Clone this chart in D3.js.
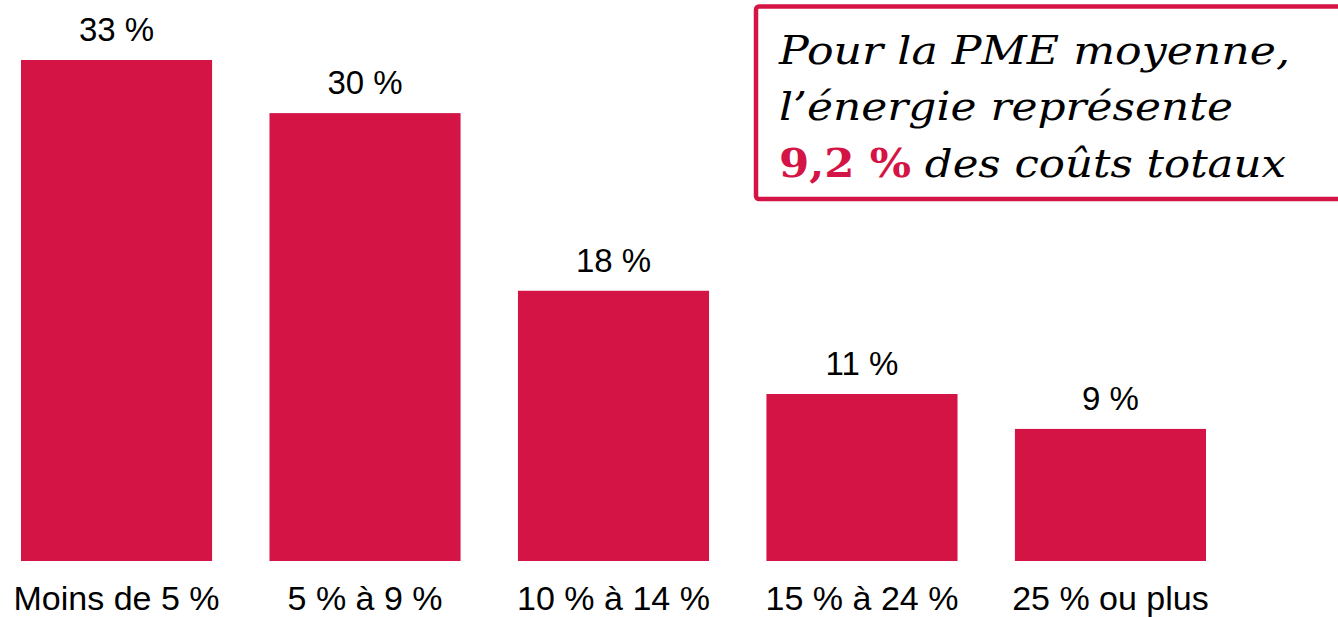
<!DOCTYPE html>
<html>
<head>
<meta charset="utf-8">
<script src="https://cdn.jsdelivr.net/npm/d3@7"></script>
<style>
  body { margin: 0; background: #fff; }
  svg { display: block; }
</style>
</head>
<body>
<div id="chart"></div>
<script>
// data
const categories = ["Moins de 5 %", "5 % à 9 %", "10 % à 14 %", "15 % à 24 %", "25 % ou plus"];
const values = [33, 29.5, 17.8, 11, 8.7];
const valueLabels = ["33 %", "30 %", "18 %", "11 %", "9 %"];
const noteLines = ["Pour la PME moyenne,", "l\u2019énergie représente"];
const noteHighlight = "9,2 %";
const noteTail = " des coûts totaux";

const width = 1338, height = 617;
const red = "#d31445";

const svg = d3.select("#chart").append("svg")
    .attr("width", width)
    .attr("height", height);

const x = d3.scaleBand()
    .domain(categories)
    .range([21, 1206])
    .paddingInner(0.231)
    .paddingOuter(0);

const y = d3.scaleLinear()
    .domain([0, 33])
    .range([561, 60]);

// bars
svg.selectAll(".bar").data(values)
    .enter().append("rect")
    .attr("class", "bar")
    .attr("x", (d, i) => x(categories[i]))
    .attr("y", d => y(d))
    .attr("width", x.bandwidth())
    .attr("height", d => y(0) - y(d))
    .attr("fill", red);

// value labels
svg.selectAll(".val").data(values)
    .enter().append("text")
    .attr("class", "val")
    .attr("x", (d, i) => x(categories[i]) + x.bandwidth() / 2)
    .attr("y", d => y(d) - 19)
    .attr("text-anchor", "middle")
    .attr("font-family", "Liberation Sans, Arial, sans-serif")
    .attr("font-size", 33)
    .attr("fill", "#000")
    .text((d, i) => valueLabels[i]);

// category axis, no line or ticks
const xAxis = svg.append("g")
    .attr("transform", `translate(0, ${y(0)})`)
    .call(d3.axisBottom(x).tickSize(0).tickPadding(48.5));
xAxis.select(".domain").remove();
xAxis.selectAll("text")
    .attr("font-family", "Liberation Sans, Arial, sans-serif")
    .attr("font-size", 34)
    .attr("fill", "#000")
    .attr("dy", 0);

// annotation box
const note = svg.append("g");
note.append("rect")
    .attr("x", 756)
    .attr("y", 6.5)
    .attr("width", 700)
    .attr("height", 192.5)
    .attr("rx", 3)
    .attr("fill", "#fff")
    .attr("stroke", red)
    .attr("stroke-width", 4.5);

const noteFont = "DejaVu Serif, serif";
const lineWidths = [511, 454];
noteLines.forEach((t, i) => {
    note.append("text")
        .attr("x", 779)
        .attr("y", 63.5 + i * 56.7)
        .attr("font-family", noteFont)
        .attr("font-style", "italic")
        .attr("font-size", 39)
        .attr("textLength", lineWidths[i])
        .attr("lengthAdjust", "spacingAndGlyphs")
        .attr("fill", "#000")
        .text(t);
});
const last = note.append("text")
    .attr("x", 779)
    .attr("y", 63.5 + 2 * 56.7)
    .attr("font-family", noteFont)
    .attr("font-size", 39)
    .attr("textLength", 507)
    .attr("lengthAdjust", "spacingAndGlyphs")
    .attr("xml:space", "preserve");
last.append("tspan")
    .attr("font-weight", "bold")
    .attr("fill", red)
    .text(noteHighlight);
last.append("tspan")
    .attr("font-style", "italic")
    .attr("fill", "#000")
    .text(noteTail);
</script>
</body>
</html>
